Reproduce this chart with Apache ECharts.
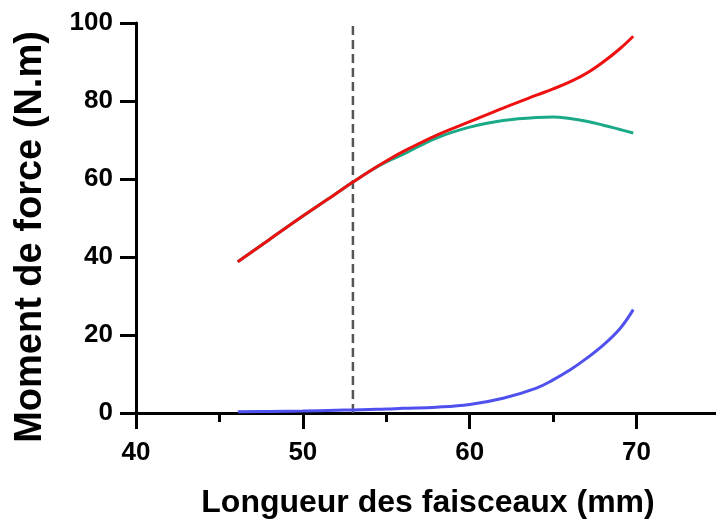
<!DOCTYPE html>
<html>
<head>
<meta charset="utf-8">
<style>
  html, body { margin: 0; padding: 0; background: #fff; }
  #chart { width: 716px; height: 523px; }
</style>
<script src="https://cdn.jsdelivr.net/npm/echarts@6/dist/echarts.min.js"></script>
</head>
<body>
<div id="chart"></div>
<script>
// Fibre length (mm) sample positions shared by the three curves
const lengths = [46.1, 48, 50, 52, 53, 54, 55, 56, 58, 60, 62, 64, 65, 66, 67, 68, 69, 69.8];
// Moment of force (N.m) for each curve
const totalMoment   = [38.8, 44.5, 50.5, 56.3, 59.2, 62.0, 64.6, 67.0, 71.2, 74.7, 78.2, 81.5, 83.1, 84.9, 87.1, 90.0, 93.4, 96.6];
const activeMoment  = [38.8, 44.5, 50.5, 56.3, 59.2, 62.0, 64.4, 66.3, 70.5, 73.3, 75.0, 75.8, 75.9, 75.5, 74.8, 73.8, 72.7, 71.8];
const passiveMoment = [0.3, 0.4, 0.5, 0.7, 0.8, 0.9, 1.0, 1.2, 1.5, 2.2, 3.8, 6.4, 8.5, 11.0, 14.0, 17.4, 21.6, 26.5];
// Optimal fibre length marker
const optimalLength = 53;

const pairs = ys => lengths.map((x, i) => [x, ys[i]]);

const font = 'Liberation Sans, Arial, sans-serif';
const chart = echarts.init(document.getElementById('chart'));

// Plot area and the two thin strips that carry the outward major ticks
const plot = { left: 136, right: -4, top: 23, bottom: 110 };
const tickLen = 16;

// An axis that draws nothing but its split lines (used as tick marks in a strip)
const stripAxis = (gridIndex, min, max, interval, withLines) => ({
  type: 'value', gridIndex, min, max, interval,
  axisLine: { show: false }, axisTick: { show: false }, axisLabel: { show: false },
  splitLine: { show: withLines, lineStyle: { color: '#000', width: 3 } }
});

chart.setOption({
  animation: false,
  backgroundColor: '#fff',
  grid: [
    Object.assign({ outerBoundsMode: 'none' }, plot),
    // strip under the x axis
    { left: plot.left, right: plot.right, bottom: plot.bottom - tickLen, height: tickLen, outerBoundsMode: 'none' },
    // strip left of the y axis
    { left: plot.left - tickLen, width: tickLen, top: plot.top, bottom: plot.bottom, outerBoundsMode: 'none' }
  ],
  xAxis: [
    {
      type: 'value',
      gridIndex: 0,
      min: 40, max: 75, interval: 10,
      name: 'Longueur des faisceaux (mm)',
      nameLocation: 'middle',
      nameGap: 74,
      nameTextStyle: { fontFamily: font, fontWeight: 'bold', fontSize: 32, color: '#000' },
      axisLine: { show: true, lineStyle: { color: '#000', width: 3 } },
      axisTick: { show: true, length: tickLen, lineStyle: { color: '#000', width: 3 } },
      minorTick: { show: true, splitNumber: 2, length: 9, lineStyle: { color: '#000', width: 3 } },
      axisLabel: {
        margin: 27, fontFamily: font, fontWeight: 'bold', fontSize: 26, color: '#000',
        formatter: v => (v < 75 ? String(v) : '')
      },
      splitLine: { show: false }
    },
    stripAxis(1, 40, 75, 10, true),
    stripAxis(2, 0, 1, 1, false)
  ],
  yAxis: [
    {
      type: 'value',
      gridIndex: 0,
      min: 0, max: 100, interval: 20,
      name: 'Moment de force (N.m)',
      nameLocation: 'middle',
      nameGap: 86,
      nameTextStyle: {
        fontFamily: font, fontWeight: 'bold', fontSize: 38, color: '#000',
        padding: [0, 38, 0, 0]
      },
      axisLine: { show: true, lineStyle: { color: '#000', width: 3 } },
      axisTick: { show: true, length: tickLen, lineStyle: { color: '#000', width: 3 } },
      axisLabel: {
        margin: 23, fontFamily: font, fontWeight: 'bold', fontSize: 26, color: '#000'
      },
      splitLine: { show: false }
    },
    stripAxis(1, 0, 1, 1, false),
    stripAxis(2, 0, 100, 20, true)
  ],
  series: [
    {
      type: 'line',
      data: [[optimalLength, 0], [optimalLength, 100]],
      showSymbol: false,
      lineStyle: { color: '#555', width: 2.5, type: [9, 5] },
      z: 1
    },
    {
      type: 'line',
      data: pairs(passiveMoment),
      smooth: 0.4,
      showSymbol: false,
      lineStyle: { color: '#5050ee', width: 3 },
      z: 3
    },
    {
      type: 'line',
      data: pairs(activeMoment),
      smooth: 0.4,
      showSymbol: false,
      lineStyle: { color: '#1aaa88', width: 3 },
      z: 3
    },
    {
      type: 'line',
      data: pairs(totalMoment),
      smooth: 0.4,
      showSymbol: false,
      lineStyle: { color: '#ee1111', width: 3 },
      z: 4
    }
  ]
});
</script>
</body>
</html>
